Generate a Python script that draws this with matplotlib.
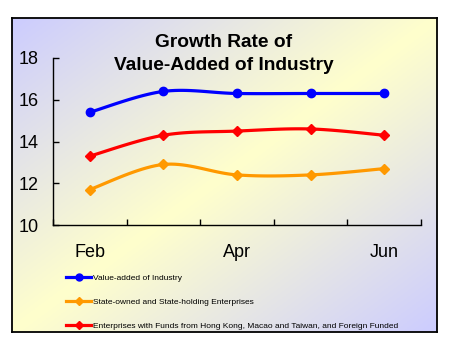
import numpy as np
import matplotlib
matplotlib.use("Agg")
import matplotlib.pyplot as plt
from matplotlib.lines import Line2D

plt.rcParams['font.family'] = ['Liberation Sans', 'DejaVu Sans']

months = ['Feb', 'Mar', 'Apr', 'May', 'Jun']
tick_labels = ['Feb', '', 'Apr', '', 'Jun']
industry = [15.4, 16.4, 16.3, 16.3, 16.3]
state_owned = [11.7, 12.9, 12.4, 12.4, 12.7]
foreign_funded = [13.3, 14.3, 14.5, 14.6, 14.3]

series_names = [
    'Value-added of Industry',
    'State-owned and State-holding Enterprises',
    'Enterprises with Funds from Hong Kong, Macao and Taiwan, and Foreign Funded',
]


def smooth(x, y, n=20):
    # Catmull-Rom style curve like Excel's smoothed line
    x = np.asarray(x, float)
    y = np.asarray(y, float)
    px = np.concatenate([[x[0]], x, [x[-1]]])
    py = np.concatenate([[y[0]], y, [y[-1]]])
    xs, ys = [], []
    t = np.linspace(0, 1, n)
    for i in range(1, len(px) - 2):
        p0, p1, p2, p3 = (np.array([px[j], py[j]]) for j in range(i - 1, i + 3))
        c1 = p1 + (p2 - p0) / 6
        c2 = p2 - (p3 - p1) / 6
        pts = ((1 - t) ** 3)[:, None] * p1 + (3 * (1 - t) ** 2 * t)[:, None] * c1 \
            + (3 * (1 - t) * t ** 2)[:, None] * c2 + (t ** 3)[:, None] * p2
        xs.extend(pts[:, 0])
        ys.extend(pts[:, 1])
    return np.array(xs), np.array(ys)


fig = plt.figure(figsize=(4.5, 3.5), dpi=100)
W, H = 450, 350

# gradient background inside the frame
bg = fig.add_axes([12 / W, 1 - 332 / H, 425 / W, 314 / H])
gx, gy = np.meshgrid(np.linspace(0, 1, 200), np.linspace(0, 1, 200))
d = (gx + gy) / 2
w = 1 - np.abs(d - 0.5) * 2
c_edge = np.array([0.80, 0.80, 1.0])
c_mid = np.array([1.0, 1.0, 0.80])
img = c_edge[None, None, :] * (1 - w[..., None]) + c_mid[None, None, :] * w[..., None]
bg.imshow(img, aspect='auto', extent=[0, 1, 0, 1], origin='upper')
bg.set_xticks([])
bg.set_yticks([])
for s in bg.spines.values():
    s.set_linewidth(1.3)
    s.set_color('black')

ax = fig.add_axes([53 / W, 1 - 225 / H, 368 / W, 167 / H])
ax.patch.set_alpha(0)
x = np.arange(len(months))

styles = [
    (industry, '#0000ff', 'o'),
    (state_owned, '#ff9900', 'D'),
    (foreign_funded, '#ff0000', 'D'),
]
handles = []
for (vals, col, mk), name in zip(styles, series_names):
    sx, sy = smooth(x, vals)
    ax.plot(sx, sy, color=col, lw=2.3, solid_capstyle='round')
    ax.plot(x, vals, linestyle='none', marker=mk, color=col,
            markersize=6 if mk == 'o' else 5.5)
    handles.append(Line2D([], [], color=col, lw=2.3, marker=mk,
                          markersize=5 if mk == 'o' else 4.5))

ax.set_xlim(-0.5, 4.5)
ax.set_ylim(10, 18)
ax.set_yticks([10, 12, 14, 16, 18])
ax.set_xticks(x)
ax.set_xticklabels(tick_labels, fontsize=13)
ax.set_xticks(np.arange(-0.5, 5, 1), minor=True)
ax.tick_params(axis='x', which='major', length=0, pad=14)
ax.tick_params(axis='x', which='minor', direction='in', length=4, width=1)
ax.tick_params(axis='y', direction='in', length=4, width=1, labelsize=13, pad=10)
for s in ['top', 'right']:
    ax.spines[s].set_visible(False)
for s in ['left', 'bottom']:
    ax.spines[s].set_linewidth(1)

fig.text(224 / W, 1 - 54 / H, 'Growth Rate of\nValue-Added of Industry',
         ha='center', va='center', fontsize=13.8, fontweight='bold',
         linespacing=1.4)

fig.legend(handles, series_names, loc='upper left',
           bbox_to_anchor=(63 / W, 1 - 271 / H), frameon=False,
           fontsize=6, handlelength=3.0, handletextpad=0.2,
           labelspacing=1.9, borderaxespad=0)

fig.savefig('out.png', dpi=100)
